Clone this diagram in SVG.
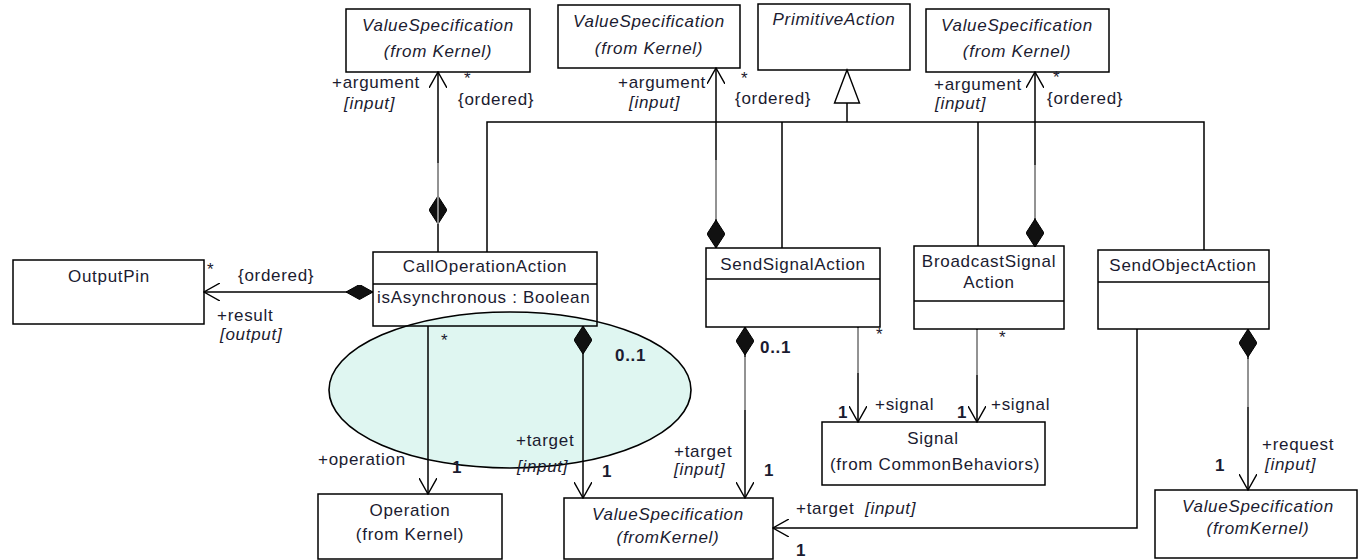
<svg xmlns="http://www.w3.org/2000/svg" width="1359" height="560" viewBox="0 0 1359 560">
<style>
text{font-family:"Liberation Sans",Arial,sans-serif;font-size:17px;letter-spacing:0.7px;fill:#1b1b30}
.c{text-anchor:middle}
.i{font-style:italic}
.b{font-weight:bold}
.box{fill:#fff;stroke:#000;stroke-width:1.5}
.ln{fill:none;stroke:#000;stroke-width:1.5}
.gr{fill:none;stroke:#a8a8a8;stroke-width:1.6}
</style>
<defs>
<marker id="open" viewBox="0 0 17 18" refX="16" refY="9" markerWidth="17" markerHeight="18" markerUnits="userSpaceOnUse" orient="auto">
<path d="M0,0 L16,9 L0,18" fill="none" stroke="#000" stroke-width="1.4"/>
</marker>
<marker id="dia" viewBox="0 0 28 18" refX="0" refY="9" markerWidth="28" markerHeight="18" markerUnits="userSpaceOnUse" orient="auto">
<path d="M0,9 L14,0 L28,9 L14,18 Z" fill="#111" stroke="#000" stroke-width="1"/>
</marker>
<marker id="diah" viewBox="0 0 27 15" refX="0" refY="7.5" markerWidth="27" markerHeight="15" markerUnits="userSpaceOnUse" orient="auto">
<path d="M0,7.5 L13.5,0 L27,7.5 L13.5,15 Z" fill="#111" stroke="#000" stroke-width="1"/>
</marker>
<marker id="gen" viewBox="0 0 36 28" refX="34" refY="14" markerWidth="36" markerHeight="28" markerUnits="userSpaceOnUse" orient="auto">
<path d="M1,1.5 L34,14 L1,26.5 Z" fill="#fff" stroke="#000" stroke-width="1.4"/>
</marker>
</defs>

<ellipse id="highlight" cx="510" cy="390" rx="181" ry="78" fill="#dff6f1" stroke="#000" stroke-width="1.6"/>

<g id="vs-top-1"><rect class="box" x="346" y="9" width="184" height="63"/><text class="c i" x="438" y="31">ValueSpecification</text><text class="c i" x="438" y="57">(from Kernel)</text></g>
<g id="vs-top-2"><rect class="box" x="558" y="5" width="182" height="63"/><text class="c i" x="649" y="27">ValueSpecification</text><text class="c i" x="649" y="54">(from Kernel)</text></g>
<g id="primitive-action"><rect class="box" x="758" y="4" width="152" height="66"/><text class="c i" x="834" y="25">PrimitiveAction</text></g>
<g id="vs-top-3"><rect class="box" x="926" y="9" width="183" height="63"/><text class="c i" x="1017" y="31">ValueSpecification</text><text class="c i" x="1017" y="57">(from Kernel)</text></g>

<g id="output-pin"><rect class="box" x="13" y="260" width="191" height="64"/><text class="c" x="109" y="282">OutputPin</text></g>
<g id="call-operation-action"><rect x="373" y="252" width="224" height="74" fill="none" stroke="#000" stroke-width="1.5"/><line class="ln" x1="373" y1="284" x2="597" y2="284"/><text class="c" x="485" y="272">CallOperationAction</text><text x="377" y="303">isAsynchronous : Boolean</text></g>
<g id="send-signal-action"><rect class="box" x="706" y="248" width="174" height="79"/><line class="ln" x1="706" y1="279" x2="880" y2="279"/><text class="c" x="793" y="270">SendSignalAction</text></g>
<g id="broadcast-signal-action"><rect class="box" x="914" y="246" width="150" height="83"/><line class="ln" x1="914" y1="301" x2="1064" y2="301"/><text class="c" x="989" y="267">BroadcastSignal</text><text class="c" x="989" y="288">Action</text></g>
<g id="send-object-action"><rect class="box" x="1098" y="250" width="171" height="79"/><line class="ln" x1="1098" y1="282" x2="1269" y2="282"/><text class="c" x="1183" y="271">SendObjectAction</text></g>

<g id="operation"><rect class="box" x="318" y="494" width="184" height="65"/><text class="c" x="410" y="516">Operation</text><text class="c" x="410" y="540">(from Kernel)</text></g>
<g id="vs-bottom-1"><rect class="box" x="564" y="498" width="209" height="61"/><text class="c i" x="668" y="520">ValueSpecification</text><text class="c i" x="668" y="543">(fromKernel)</text></g>
<g id="signal"><rect class="box" x="822" y="422" width="223" height="63"/><text class="c" x="933" y="444">Signal</text><text class="c" x="935" y="470">(from CommonBehaviors)</text></g>
<g id="vs-bottom-2"><rect class="box" x="1155" y="490" width="202" height="68"/><text class="c i" x="1258" y="512">ValueSpecification</text><text class="c i" x="1258" y="534">(fromKernel)</text></g>

<g id="connectors">
<path class="ln" d="M438,224 L438,72" marker-start="url(#dia)" marker-end="url(#open)"/>
<line class="gr" x1="438" y1="163" x2="438" y2="224"/>
<path class="ln" d="M716,248 L716,68" marker-start="url(#dia)" marker-end="url(#open)"/>
<line class="gr" x1="716" y1="160" x2="716" y2="219"/>
<path class="ln" d="M1035,247 L1035,72" marker-start="url(#dia)" marker-end="url(#open)"/>
<line class="gr" x1="1035" y1="165" x2="1035" y2="218"/>
<path class="ln" d="M438,252 L438,224"/>
<path class="ln" d="M487,252 L487,122 L1204,122 L1204,250 M782,122 L782,248 M978,122 L978,246"/>
<path class="ln" d="M847,122 L847,70" marker-end="url(#gen)"/>
<path class="ln" d="M373,292 L204,292" marker-start="url(#diah)" marker-end="url(#open)"/>
<path class="ln" d="M428,326 L428,494" marker-end="url(#open)"/>
<path class="ln" d="M583,326 L583,498" marker-start="url(#dia)" marker-end="url(#open)"/>
<path class="ln" d="M745,327 L745,498" marker-start="url(#dia)" marker-end="url(#open)"/>
<line class="gr" x1="745" y1="357" x2="745" y2="410"/>
<path class="ln" d="M858,327 L858,422" marker-end="url(#open)"/>
<line class="gr" x1="858" y1="328" x2="858" y2="373"/>
<path class="ln" d="M977,329 L977,422" marker-end="url(#open)"/>
<line class="gr" x1="977" y1="330" x2="977" y2="375"/>
<path class="ln" d="M1137,329 L1137,528 L773,528" marker-end="url(#open)"/>
<path class="ln" d="M1248,329 L1248,490" marker-start="url(#dia)" marker-end="url(#open)"/>
<line class="gr" x1="1248" y1="359" x2="1248" y2="407"/>

<text x="332" y="88">+argument</text>
<text class="i" x="344" y="109">[input]</text>
<text x="464" y="84">*</text>
<text x="458" y="105">{ordered}</text>
<text x="618" y="88">+argument</text>
<text class="i" x="629" y="108">[input]</text>
<text x="741" y="84">*</text>
<text x="735" y="104">{ordered}</text>
<text x="934" y="90">+argument</text>
<text class="i" x="935" y="109">[input]</text>
<text x="1053" y="83">*</text>
<text x="1047" y="104">{ordered}</text>

<text x="207" y="275">*</text>
<text x="238" y="281">{ordered}</text>
<text x="217" y="321">+result</text>
<text class="i" x="220" y="340">[output]</text>
<text x="441" y="346">*</text>
<text class="b" x="615" y="361">0..1</text>
<text x="318" y="465">+operation</text>
<text class="b" x="452" y="473">1</text>
<text x="516" y="446">+target</text>
<text class="i" x="517" y="472">[input]</text>
<text class="b" x="602" y="477">1</text>
<text class="b" x="760" y="353">0..1</text>
<text x="876" y="340">*</text>
<text x="674" y="457">+target</text>
<text class="i" x="674" y="475">[input]</text>
<text class="b" x="764" y="476">1</text>
<text class="b" x="838" y="418">1</text>
<text x="875" y="410">+signal</text>
<text x="999" y="343">*</text>
<text class="b" x="957" y="418">1</text>
<text x="991" y="410">+signal</text>
<text x="796" y="514">+target</text>
<text class="i" x="865" y="514">[input]</text>
<text class="b" x="796" y="556">1</text>
<text class="b" x="1215" y="471">1</text>
<text x="1262" y="450">+request</text>
<text class="i" x="1265" y="470">[input]</text>
</g>
</svg>
